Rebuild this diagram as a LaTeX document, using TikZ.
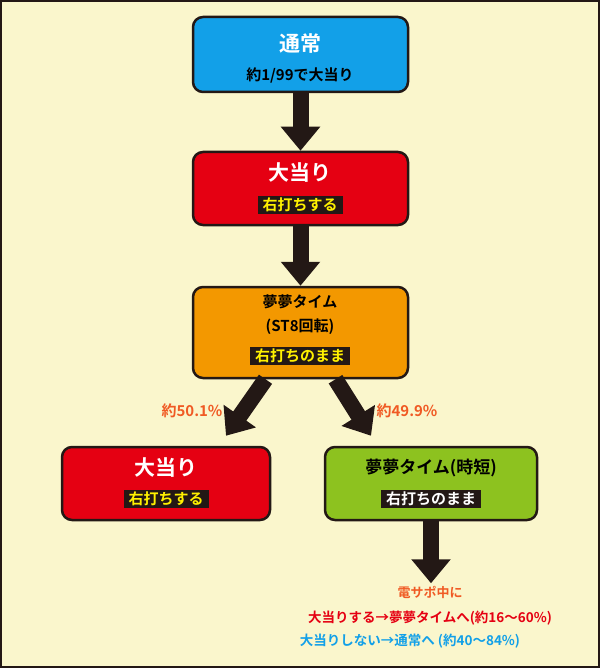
\documentclass[tikz,border=0pt]{standalone}
\usepackage{fontspec}
\setmainfont{Noto Sans CJK JP}[BoldFont={Noto Sans CJK JP Bold}]
\usetikzlibrary{arrows.meta,calc}
\definecolor{bg}{HTML}{FAF6CC}
\definecolor{cblue}{HTML}{12A0E8}
\definecolor{cred}{HTML}{E50012}
\definecolor{corange}{HTML}{F39800}
\definecolor{cgreen}{HTML}{8DC21F}
\definecolor{ctxt}{HTML}{F05A24}
\definecolor{cyel}{HTML}{FFF100}
\definecolor{dk}{HTML}{231815}
\begin{document}
\begin{tikzpicture}[x=1pt,y=-1pt,font=\bfseries,
 box/.style={draw=dk,line width=2.5pt,rounded corners=10pt,minimum width=#1},
 box/.default=215pt,
 tag/.style={fill=dk,inner xsep=5pt,inner ysep=2pt},
 big/.style={font=\bfseries\fontsize{21}{24}\selectfont},
 mid/.style={font=\bfseries\fontsize{15}{18}\selectfont},
 arr/.style={draw=dk,line width=16pt,-{Triangle[width=38pt,length=24pt]}}]
\fill[bg] (0,0) rectangle (600,668);
\draw[dk,line width=2pt] (1,1) rectangle (599,667);
% boxes
\node[box,fill=cblue,minimum height=75pt] (n1) at (300.5,54.5) {};
\node[white,big] at (300,44) {通常};
\node[mid,black] at (300,75) {約1/99で大当り};
\node[box,fill=cred,minimum height=73pt] (n2) at (300.5,188.5) {};
\node[white,big] at (300,173) {大当り};
\node[tag,mid,text=cyel] at (300,205) {右打ちする};
\node[box,fill=corange,minimum height=91pt] (n3) at (300.5,332.5) {};
\node[mid,black] at (300,302) {夢夢タイム};
\node[mid,black] at (300,327) {(ST8回転)};
\node[tag,mid,text=cyel] at (300,356) {右打ちのまま};
\node[box=208pt,fill=cred,minimum height=73pt] (n4) at (166,483.5) {};
\node[white,big] at (166,468) {大当り};
\node[tag,mid,text=cyel] at (166,499) {右打ちする};
\node[box=212pt,fill=cgreen,minimum height=73pt] (n5) at (431,483.5) {};
\node[mid,black,font=\bfseries\fontsize{17}{20}\selectfont] at (431,468) {夢夢タイム(時短)};
\node[tag,mid,text=white] at (431,499) {右打ちのまま};
% arrows
\draw[arr] (n1.south) -- (n2.north);
\draw[arr] (n2.south) -- (n3.north);
\draw[arr] ($(n3.south)+(-35,0)$) -- ($(n4.north)+(60,-10)$);
\draw[arr] ($(n3.south)+(35,0)$) -- ($(n5.north)+(-60,-10)$);
\draw[arr] (n5.south) -- ++(0,62) coordinate (e);
\node[mid,text=ctxt] (p1) at (192,411) {約50.1\%};
\node[mid,text=ctxt] (p2) at (407,411) {約49.9\%};
\node[text=ctxt,font=\bfseries\fontsize{13}{15}\selectfont] (t1) at (430,592) {電サポ中に};
\node[text=cred,font=\bfseries\fontsize{13.5}{15}\selectfont] (t2) at (430,618) {大当りする→夢夢タイムへ(約16〜60\%)};
\node[text=cblue,font=\bfseries\fontsize{13.5}{15}\selectfont] (t3) at (410,641) {大当りしない→通常へ (約40〜84\%)};
\end{tikzpicture}
\end{document}
